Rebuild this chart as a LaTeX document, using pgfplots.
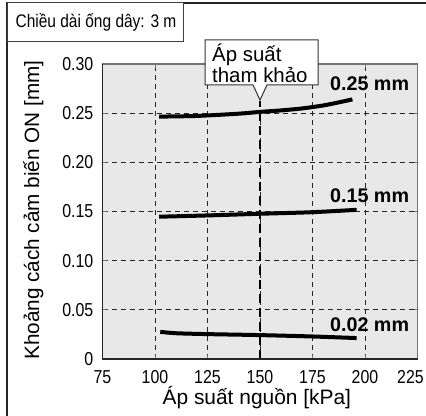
\documentclass[border=0pt]{standalone}
\usepackage{fontspec}
\setmainfont{Liberation Sans}
\newfontfamily\narrowfont{Liberation Sans}[FakeStretch=0.85]
\usepackage{pgfplots}
\pgfplotsset{compat=1.18}
\definecolor{bg}{RGB}{232,232,232}
\begin{document}
\begin{tikzpicture}
\path[use as bounding box] (0,0) rectangle (426bp,416bp);
\fill[white] (0,0) rectangle (426bp,416bp);
\begin{axis}[
  at={(102.5bp,57bp)}, anchor=south west,
  scale only axis, width=315bp, height=295bp,
  xmin=75, xmax=225, ymin=0, ymax=0.30,
  xtick={75,100,125,150,175,200,225},
  xticklabels={75,100,125,150,175,200,{\kern-14bp 225}},
  ytick={0,0.05,0.1,0.15,0.2,0.25,0.3},
  yticklabels={0,0.05,0.10,0.15,0.20,0.25,0.30},
  axis background/.style={fill=bg},
  axis line style={draw=black!55, line width=1.2bp},
  grid=major,
  major grid style={black!85, line width=0.8bp, dash pattern=on 5bp off 4bp},
  tick align=inside, major tick length=4bp,
  tick style={black!55, line width=0.8bp},
  /pgf/number format/assume math mode=true,
  xticklabel style={font=\narrowfont\fontsize{18.8}{20}\selectfont, anchor=north, inner sep=0pt, yshift=-11bp},
  yticklabel style={font=\narrowfont\fontsize{18.8}{20}\selectfont, anchor=east, inner sep=0pt, xshift=-9bp},
  xlabel={Áp suất nguồn [kPa]},
  ylabel={Khoảng cách cảm biến ON [mm]},
  xlabel style={font=\fontsize{21}{24}\selectfont, at={(axis description cs:0.49,-0.132)}, anchor=center},
  ylabel style={font=\fontsize{20.8}{24}\selectfont, at={(axis description cs:-0.22,0.505)}, anchor=center},
  clip=false,
]
\addplot[line width=4bp, black, smooth] coordinates {(102,0.2465)(120,0.2472)(140,0.2495)(150,0.2513)(160,0.2528)(170,0.2548)(180,0.2578)(188,0.2612)(194,0.264)};
\addplot[line width=4bp, black, smooth] coordinates {(102,0.1447)(125,0.146)(150,0.1477)(175,0.1493)(196,0.1517)};
\addplot[line width=4bp, black, smooth] coordinates {(102.5,0.0276)(110,0.0262)(125,0.0253)(150,0.0243)(175,0.0229)(196,0.0213)};
\addplot[line width=2.5bp, black, dash pattern=on 9bp off 5bp] coordinates {(150,0)(150,0.2625)};
\draw[black!85, line width=1.5bp] (rel axis cs:0,1) -- (rel axis cs:0,0) -- (rel axis cs:1,0);
\node[anchor=west, inner sep=0pt, font=\bfseries\fontsize{19.8}{22}\selectfont] at (axis cs:183.3,0.2797) {0.25 mm};
\node[anchor=west, inner sep=0pt, font=\bfseries\fontsize{19.8}{22}\selectfont] at (axis cs:183.3,0.1662) {0.15 mm};
\node[anchor=west, inner sep=0pt, font=\bfseries\fontsize{19.8}{22}\selectfont] at (axis cs:183.3,0.0345) {0.02 mm};
\end{axis}
\draw[line width=1.5bp, black!85] (7bp,0) -- (7bp,413bp) -- (426bp,413bp);
\draw[black!75, line width=1bp, fill=white] (7bp,413bp) rectangle (183bp,374bp);
\node[inner sep=0pt, font=\narrowfont\fontsize{18.3}{22}\selectfont] at (96bp,393.5bp) {Chiều dài ống dây: 3 m};
\draw[black!80, line width=1bp, fill=white] (205bp,376bp) -- (318bp,376bp) -- (318bp,331bp) -- (267bp,331bp) -- (260bp,316bp) -- (253bp,331bp) -- (205bp,331bp) -- cycle;
\node[anchor=north west, inner sep=0pt, align=left, font=\fontsize{20.5}{17}\selectfont] at (212bp,372bp) {Áp suất\\tham khảo};
\end{tikzpicture}
\end{document}
